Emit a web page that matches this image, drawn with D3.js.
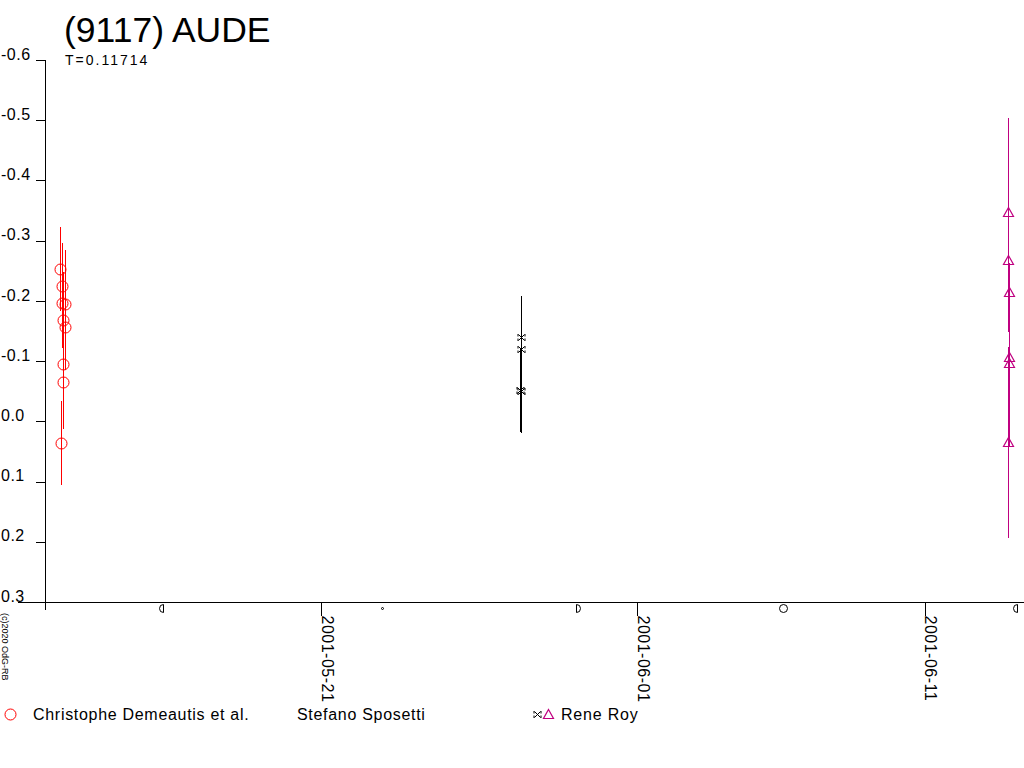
<!DOCTYPE html>
<html>
<head>
<meta charset="utf-8">
<script src="https://cdn.jsdelivr.net/npm/d3@7"></script>
<style>
  html, body { margin: 0; padding: 0; background: #fff; }
  svg { display: block; font-family: "Liberation Sans", Arial, sans-serif; }
</style>
</head>
<body>
<svg id="chart" width="1024" height="768"></svg>
<script>
// ---------- data ----------
const title = "(9117) AUDE";
const subtitle = "T=0.11714";
const copyright = "(c)2020 OdG-RB";

const yTicks = [-0.6, -0.5, -0.4, -0.3, -0.2, -0.1, 0.0, 0.1, 0.2, 0.3];
const yTickLabels = ["-0.6", "-0.5", "-0.4", "-0.3", "-0.2", "-0.1", "0.0", "0.1", "0.2", "0.3"];
const xTickDates = ["2001-05-21T00:00Z", "2001-06-01T00:00Z", "2001-06-11T00:00Z"];
const xTickLabels = ["2001-05-21", "2001-06-01", "2001-06-11"];
const xDomain = ["2001-05-11T09:36Z", "2001-06-14T10:48Z"];

// Christophe Demeautis et al. (red circles)
const demeautisTimes = ["2001-05-11T22:08Z", "2001-05-11T23:47Z", "2001-05-11T23:47Z", "2001-05-12T02:18Z",
  "2001-05-12T00:37Z", "2001-05-12T02:18Z", "2001-05-12T00:37Z", "2001-05-12T00:37Z", "2001-05-11T22:58Z"];
const demeautisMag = [-0.253, -0.225, -0.196, -0.195, -0.168, -0.156, -0.095, -0.065, 0.036];
const demeautisErr = [0.070, 0.071, 0.075, 0.090, 0.080, 0.070, 0.060, 0.078, 0.070];

// Stefano Sposetti (black crossed squares)
const sposettiTimes = ["2001-05-27T22:55Z", "2001-05-27T22:55Z", "2001-05-27T22:07Z", "2001-05-27T22:55Z"];
const sposettiMag = [-0.140, -0.120, -0.052, -0.050];
const sposettiErr = [0.068, 0.040, 0.070, 0.070];

// Rene Roy (magenta triangles)
const royTimes = ["2001-06-13T21:30Z", "2001-06-13T21:30Z", "2001-06-13T22:20Z", "2001-06-13T22:20Z",
  "2001-06-13T22:20Z", "2001-06-13T21:30Z"];
const royMag = [-0.348, -0.268, -0.215, -0.107, -0.097, 0.035];
const royErr = [0.155, 0.120, 0.048, 0.100, 0.140, 0.158];

// moon phases
const moonTimes = ["2001-05-15T10:11Z", "2001-05-23T02:46Z", "2001-05-29T22:09Z", "2001-06-06T01:39Z", "2001-06-14T03:28Z"];
const moonPhases = ["last", "new", "first", "full", "last"];

const seriesNames = ["Christophe Demeautis et al.", "Stefano Sposetti", "Rene Roy"];
const seriesColors = ["#ff0000", "#000000", "#c00080"];

// ---------- setup ----------
const svg = d3.select("#chart");
const x = d3.scaleUtc().domain(xDomain.map(d => new Date(d))).range([45, 1024]);
const y = d3.scaleLinear().domain([-0.6, 0.3]).range([60, 602]);
const px = v => Math.round(v) + 0.5;

// titles
svg.append("text").attr("x", 64).attr("y", 42).attr("font-size", 35.5).text(title);
svg.append("text").attr("x", 65).attr("y", 65).attr("font-size", 14).attr("letter-spacing", 2).text(subtitle);

// y axis
const yAxis = d3.axisLeft(y).tickValues(yTicks).tickSize(10).tickSizeOuter(0)
  .tickFormat((d, i) => yTickLabels[i]);
const gy = svg.append("g").attr("transform", "translate(45.5,0)").call(yAxis);
gy.select(".domain").remove();
gy.selectAll(".tick line").attr("stroke", "#000").attr("shape-rendering", "crispEdges");
gy.selectAll(".tick text").attr("x", -44.5).attr("dy", "-0.05em").attr("text-anchor", "start")
  .attr("font-size", 16).attr("letter-spacing", 0.5)
  .attr("font-family", "Liberation Sans, Arial, sans-serif").attr("fill", "#000");
svg.append("line").attr("x1", 45.5).attr("x2", 45.5).attr("y1", y(-0.6)).attr("y2", 610)
  .attr("stroke", "#000").attr("shape-rendering", "crispEdges");

// x axis
const xAxis = d3.axisBottom(x).tickValues(xTickDates.map(d => new Date(d))).tickSize(13).tickSizeOuter(0)
  .tickFormat((d, i) => xTickLabels[i]);
const gx = svg.append("g").attr("transform", "translate(0,602.5)").call(xAxis);
gx.select(".domain").remove();
gx.selectAll(".tick line").attr("stroke", "#000").attr("shape-rendering", "crispEdges");
gx.selectAll(".tick text").attr("text-anchor", "start").attr("font-size", 16).attr("letter-spacing", 0.5)
  .attr("font-family", "Liberation Sans, Arial, sans-serif").attr("fill", "#000")
  .attr("transform", "translate(0,13) rotate(90)").attr("x", 0).attr("y", 0).attr("dy", "0");
svg.append("line").attr("x1", 18).attr("x2", 1024).attr("y1", 602.5).attr("y2", 602.5)
  .attr("stroke", "#000").attr("shape-rendering", "crispEdges");

// moon phases
const moonY = 608.5;
moonTimes.forEach((t, i) => {
  const cx = Math.round(x(new Date(t))) + 0.5;
  const ph = moonPhases[i];
  const g = svg.append("g").attr("fill", "none").attr("stroke", "#000").attr("stroke-width", 1);
  if (ph === "full") {
    g.append("circle").attr("cx", cx).attr("cy", moonY).attr("r", 4);
  } else if (ph === "new") {
    g.append("circle").attr("cx", cx).attr("cy", moonY).attr("r", 1);
  } else if (ph === "first") {
    g.append("path").attr("d", `M${cx - 2},${moonY - 4} L${cx - 2},${moonY + 4} A4,4 0 0 0 ${cx - 2},${moonY - 4}`);
  } else {
    g.append("path").attr("d", `M${cx + 2},${moonY - 4} L${cx + 2},${moonY + 4} A4,4 0 0 1 ${cx + 2},${moonY - 4}`);
  }
});

// copyright
svg.append("text").attr("transform", "translate(2,613) rotate(90)").attr("font-size", 9).text(copyright);

// ---------- markers ----------
function circleMark(g, cx, cy, color) {
  g.append("circle").attr("cx", cx).attr("cy", cy).attr("r", 5.5).attr("fill", "none").attr("stroke", color);
}
function crossMark(g, cx, cy, color) {
  g.append("path").attr("fill", "none").attr("stroke", color).attr("stroke-width", 1)
    .attr("d", `M${cx - 3},${cy - 3}L${cx + 3},${cy + 3}M${cx + 3},${cy - 3}L${cx - 3},${cy + 3}` +
      `M${cx - 3.5},${cy - 3.5}V${cy - 1}M${cx - 3.5},${cy + 1}V${cy + 3.5}M${cx + 3.5},${cy - 3.5}V${cy - 1}M${cx + 3.5},${cy + 1}V${cy + 3.5}`);
}
function triMark(g, cx, cy, color) {
  g.append("path").attr("fill", "none").attr("stroke", color).attr("stroke-width", 1.2)
    .attr("d", `M${cx},${cy - 5}L${cx + 5},${cy + 4}L${cx - 5},${cy + 4}Z`);
}

function drawSeries(times, mags, errs, color, marker) {
  const g = svg.append("g");
  times.forEach((t, i) => {
    const cx = px(x(new Date(t)));
    g.append("line").attr("x1", cx).attr("x2", cx)
      .attr("y1", y(mags[i] - errs[i])).attr("y2", y(mags[i] + errs[i]))
      .attr("stroke", color).attr("stroke-width", 1).attr("shape-rendering", "crispEdges");
  });
  times.forEach((t, i) => {
    const cx = px(x(new Date(t)));
    marker(g, cx, Math.round(y(mags[i])) + 0.5, color);
  });
}
drawSeries(demeautisTimes, demeautisMag, demeautisErr, seriesColors[0], circleMark);
drawSeries(sposettiTimes, sposettiMag, sposettiErr, seriesColors[1], crossMark);
drawSeries(royTimes, royMag, royErr, seriesColors[2], triMark);

// ---------- legend ----------
const lg = svg.append("g");
circleMark(lg, 10.5, 714.5, seriesColors[0]);
lg.append("text").attr("x", 33).attr("y", 720).attr("font-size", 16).attr("letter-spacing", 0.7).text(seriesNames[0]);
lg.append("text").attr("x", 297).attr("y", 720).attr("font-size", 16).attr("letter-spacing", 0.7).text(seriesNames[1]);
crossMark(lg, 537.5, 714.5, seriesColors[1]);
triMark(lg, 548.5, 714.5, seriesColors[2]);
lg.append("text").attr("x", 561).attr("y", 720).attr("font-size", 16).attr("letter-spacing", 0.8).text(seriesNames[2]);
</script>
</body>
</html>
